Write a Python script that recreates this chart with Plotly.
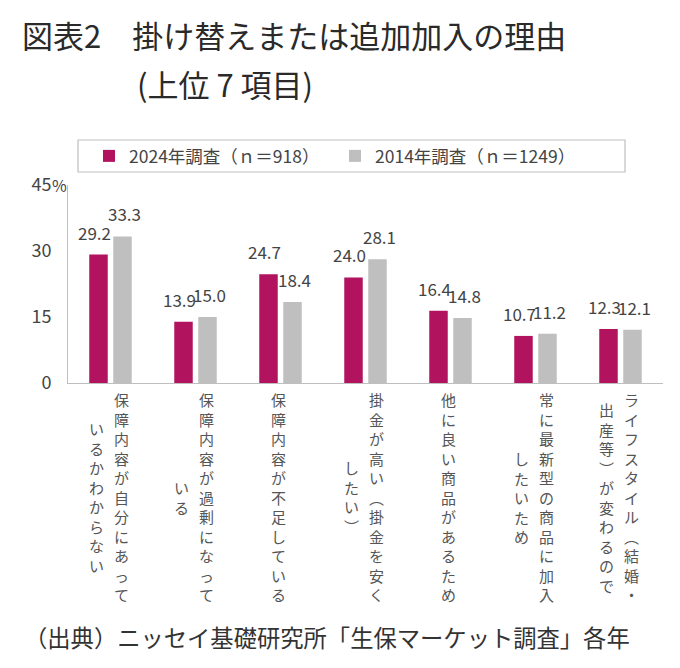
import plotly.graph_objects as go

# values (%)
categories = [
    '保障内容が自分にあっているかわからない',
    '保障内容が過剰になっている',
    '保障内容が不足している',
    '掛金が高い（掛金を安くしたい）',
    '他に良い商品があるため',
    '常に最新型の商品に加入したいため',
    'ライフスタイル（結婚・出産等）が変わるので',
]
survey_2024 = [29.2, 13.9, 24.7, 24.0, 16.4, 10.7, 12.3]
survey_2014 = [33.3, 15.0, 18.4, 28.1, 14.8, 11.2, 12.1]
series_names = ['2024年調査（ｎ＝918）', '2014年調査（ｎ＝1249）']
y_ticks = [0, 15, 30, 45]
y_ticktext = ['0', '15', '30', '45']

FONT = 'Noto Sans CJK JP'
MAGENTA = '#B2135F'
GREY = '#BFBFBF'
TEXT = '#444444'

W, H = 680, 668
L, R, T, B = 68, 17, 185, 285
PW, PH = W - L - R, H - T - B


def px_x(p):
    return (p - L) / PW


def px_y(p):
    return (H - B - p) / PH


fig = go.Figure()
for name, vals, color in [(series_names[0], survey_2024, MAGENTA),
                          (series_names[1], survey_2014, GREY)]:
    fig.add_trace(go.Bar(x=categories, y=vals, name=name,
                         marker=dict(color=color, line=dict(width=0))))

annotations = []

# value labels, nudged off each bar like the original
for vals, dx in [(survey_2024, -16), (survey_2014, 14)]:
    for cat, v in zip(categories, vals):
        annotations.append(dict(
            x=cat, xref='x', y=v, yref='y', text=f'{v:.1f}', showarrow=False,
            xanchor='center', yanchor='bottom', xshift=dx, yshift=8,
            font=dict(size=17, color=TEXT, family=FONT)))

# vertical (tategaki) category labels, 11 characters per column, right to left
VERT = {'（': '︵', '）': '︶'}
COL = 25
for cat in categories:
    cols = [cat[i:i + 11] for i in range(0, len(cat), 11)]
    ncol = len(cols)
    for ci, col in enumerate(cols):
        annotations.append(dict(
            x=cat, xref='x', y=0, yref='paper',
            text='<br>'.join(VERT.get(ch, ch) for ch in col),
            showarrow=False, align='center',
            xanchor='center', yanchor='middle',
            xshift=-2 + ((ncol - 1) / 2 - ci) * COL, yshift=-114,
            font=dict(size=15, color='#555555', family=FONT)))

annotations += [
    dict(x=0, xref='paper', y=45, yref='y', text='%', showarrow=False,
         xanchor='right', yanchor='middle', xshift=1,
         font=dict(size=16, color=TEXT, family=FONT)),
    dict(x=px_x(135), xref='paper', y=px_y(84), yref='paper',
         text='(上位 7 項目)', showarrow=False, xanchor='left', yanchor='middle',
         font=dict(size=31, color='#2a2a2a', family=FONT)),
    dict(x=px_x(22), xref='paper', y=px_y(637), yref='paper',
         text='（出典）ニッセイ基礎研究所「生保マーケット調査」各年', showarrow=False,
         xanchor='left', yanchor='middle',
         font=dict(size=23.3, color='#333333', family=FONT)),
]

fig.update_layout(
    width=W, height=H,
    margin=dict(l=L, r=R, t=T, b=B, autoexpand=False),
    paper_bgcolor='white', plot_bgcolor='white',
    font=dict(family=FONT, color=TEXT),
    title=dict(text='図表2　掛け替えまたは追加加入の理由',
               x=22 / W, xanchor='left', xref='container',
               y=1 - 37 / H, yanchor='middle', yref='container',
               font=dict(size=31, color='#2a2a2a', family=FONT)),
    barmode='group', bargap=0.435, bargroupgap=0.23,
    showlegend=True,
    legend=dict(orientation='h', x=px_x(89), xanchor='left',
                y=px_y(156), yanchor='middle',
                font=dict(size=17.5, color=TEXT, family=FONT),
                bgcolor='rgba(0,0,0,0)', entrywidth=201, itemwidth=30),
    xaxis=dict(showticklabels=False, showline=True, linecolor='#BFBFBF',
               linewidth=1, ticks='', showgrid=False, zeroline=False),
    yaxis=dict(range=[0, 45], tickvals=y_ticks, ticktext=y_ticktext,
               showline=True, linecolor='#BFBFBF', linewidth=1,
               showgrid=False, zeroline=False, ticks='',
               ticklabelstandoff=12,
               tickfont=dict(size=18, color=TEXT, family=FONT)),
    shapes=[dict(type='rect', xref='paper', yref='paper',
                 x0=px_x(78), x1=px_x(625), y0=px_y(172), y1=px_y(140),
                 line=dict(color='#BFBFBF', width=1.2), fillcolor='rgba(0,0,0,0)')],
    annotations=annotations,
)

# drop the browser's default 8px page margin so the figure sits at (0, 0)
fig.write_html('out.html', config={'displayModeBar': False},
               post_script="document.body.style.margin='0';")
